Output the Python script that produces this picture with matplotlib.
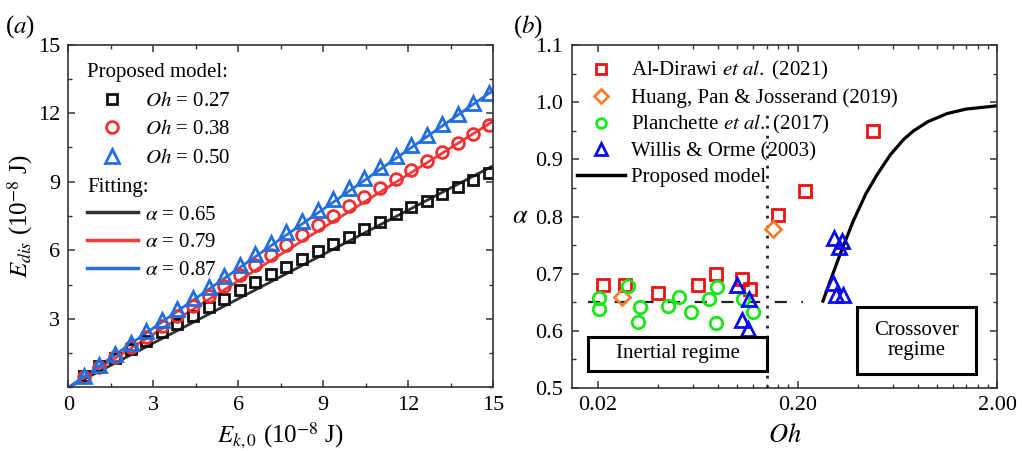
import matplotlib
matplotlib.use("Agg")
import matplotlib.pyplot as plt
from matplotlib.lines import Line2D
from matplotlib.patches import Rectangle
from matplotlib.ticker import MultipleLocator, NullFormatter

plt.rcParams['font.family'] = ['Liberation Serif', 'DejaVu Serif']
plt.rcParams['mathtext.fontset'] = 'stix'
plt.rcParams['font.size'] = 15

# (a) dissipated vs initial kinetic energy, units of 1e-8 J
ek0 = [0.55, 1.10, 1.65, 2.20, 2.75, 3.30, 3.85, 4.40, 4.95, 5.50, 6.05, 6.60, 7.15, 7.70,
       8.25, 8.80, 9.35, 9.90, 10.45, 11.00, 11.55, 12.10, 12.65, 13.20, 13.75, 14.30, 14.85]
edis_027 = [0.50, 0.92, 1.30, 1.68, 2.05, 2.42, 2.78, 3.14, 3.52, 3.89, 4.26, 4.62, 4.96, 5.29,
            5.62, 5.96, 6.28, 6.60, 6.93, 7.25, 7.58, 7.88, 8.17, 8.47, 8.78, 9.07, 9.37]
edis_038 = [0.45, 0.90, 1.34, 1.79, 2.23, 2.68, 3.12, 3.57, 4.01, 4.46, 4.90, 5.35, 5.79, 6.24,
            6.68, 7.10, 7.52, 7.93, 8.33, 8.73, 9.13, 9.52, 9.91, 10.30, 10.69, 11.08, 11.47]
edis_050 = [0.50, 0.98, 1.47, 1.96, 2.45, 2.94, 3.43, 3.92, 4.40, 4.89, 5.37, 5.86, 6.34, 6.82,
            7.29, 7.77, 8.24, 8.71, 9.18, 9.65, 10.12, 10.59, 11.06, 11.52, 11.98, 12.43, 12.88]
fit_x = [0.0, 15.0]
fit_065 = [0.0, 9.70]
fit_079 = [0.0, 11.65]
fit_087 = [0.0, 13.00]

# (b) alpha against Oh
dirawi_oh = [0.0212, 0.0275, 0.0398, 0.0634, 0.0778, 0.106, 0.116, 0.159, 0.217, 0.479]
dirawi_a = [0.681, 0.681, 0.667, 0.680, 0.699, 0.690, 0.673, 0.802, 0.845, 0.950]
huang_oh = [0.0263, 0.151]
huang_a = [0.660, 0.778]
planch_oh = [0.0202, 0.0202, 0.0283, 0.0325, 0.0318, 0.0449, 0.0510, 0.0588, 0.0720,
             0.0786, 0.0778, 0.107, 0.119]
planch_a = [0.658, 0.638, 0.678, 0.642, 0.616, 0.643, 0.660, 0.633, 0.655,
            0.677, 0.613, 0.655, 0.633]
willis_oh = [0.0999, 0.114, 0.106, 0.113, 0.304, 0.335, 0.322, 0.302, 0.310, 0.338]
willis_a = [0.680, 0.655, 0.619, 0.603, 0.762, 0.758, 0.747, 0.683, 0.662, 0.662]
model_oh = [0.268, 0.30, 0.33, 0.38, 0.44, 0.50, 0.583, 0.68, 0.763, 0.90, 1.12, 1.40, 1.92, 2.0]
model_a = [0.652, 0.699, 0.738, 0.792, 0.840, 0.873, 0.908, 0.935, 0.950, 0.966, 0.980, 0.988, 0.993, 0.994]
inertial_oh = [0.0178, 0.214]
inertial_a = 0.65
oh_boundary = 0.14

fig = plt.figure(figsize=(10.22, 4.51), dpi=100)
ax1 = fig.add_axes([0.0668, 0.1408, 0.4159, 0.7605])
ax2 = fig.add_axes([0.5594, 0.1397, 0.4164, 0.7605])

spine_col = '#333333'
for ax in (ax1, ax2):
    for s in ax.spines.values():
        s.set_linewidth(1.2)
        s.set_color(spine_col)
    ax.tick_params(which='both', direction='in', top=True, right=True, color=spine_col,
                   labelsize=16, pad=6)
    ax.tick_params(which='major', length=5, width=1.1)
    ax.tick_params(which='minor', length=3, width=1.0)

# ---- (a)
ax1.plot(fit_x, fit_065, color='#303030', lw=2.0)
ax1.plot(fit_x, fit_079, color='#f03c3c', lw=2.0)
ax1.plot(fit_x, fit_087, color='#2a6fdc', lw=2.0)
ax1.plot(ek0, edis_027, ls='none', marker='s', ms=7.5, mfc='none', mec='#111111', mew=2.0)
ax1.plot(ek0, edis_038, ls='none', marker='o', ms=8.5, mfc='none', mec='#f03030', mew=2.0)
ax1.plot(ek0, edis_050, ls='none', marker='^', ms=9.5, mfc='none', mec='#1f6fe0', mew=2.0)

ax1.set_xlim(0, 15)
ax1.set_ylim(0, 15)
ax1.set_xticks([0, 3, 6, 9, 12, 15])
ax1.set_yticks([3, 6, 9, 12, 15])
ax1.xaxis.set_minor_locator(MultipleLocator(1.5))
ax1.yaxis.set_minor_locator(MultipleLocator(1.5))
ax1.set_xlabel(r'$E_{k,0}$ (10$^{-8}$ J)', fontsize=18, labelpad=4)
ax1.set_ylabel(r'$E_{dis}$ (10$^{-8}$ J)', fontsize=18, labelpad=2)

h_mark = [Line2D([], [], ls='none', marker='s', ms=7.5, mfc='none', mec='#111111', mew=2.0),
          Line2D([], [], ls='none', marker='o', ms=8.5, mfc='none', mec='#f03030', mew=2.0),
          Line2D([], [], ls='none', marker='^', ms=9.5, mfc='none', mec='#1f6fe0', mew=2.0)]
leg1 = ax1.legend(h_mark, [r'$Oh$ = 0.27', r'$Oh$ = 0.38', r'$Oh$ = 0.50'],
                  title='Proposed model:', alignment='left', loc='upper left',
                  bbox_to_anchor=(0.044, 0.945), frameon=False, fontsize=15, title_fontsize=15,
                  handlelength=2.45, handletextpad=0.33, labelspacing=0.43,
                  borderpad=0, borderaxespad=0)
ax1.add_artist(leg1)
h_line = [Line2D([], [], color='#303030', lw=2.5),
          Line2D([], [], color='#f03c3c', lw=2.5),
          Line2D([], [], color='#2a6fdc', lw=2.5)]
ax1.legend(h_line, [r'$\alpha$ = 0.65', r'$\alpha$ = 0.79', r'$\alpha$ = 0.87'],
           title='Fitting:', alignment='left', loc='upper left',
           bbox_to_anchor=(0.044, 0.611), frameon=False, fontsize=15, title_fontsize=15,
           handlelength=2.45, handletextpad=0.33, labelspacing=0.39,
           borderpad=0, borderaxespad=0)

# ---- (b)
ax2.set_xscale('log')
ax2.plot(inertial_oh, [inertial_a, inertial_a], color='#222222', lw=1.6, ls=(0, (5.5, 6.5)))
ax2.plot([oh_boundary, oh_boundary], [0.5, 0.99], color='#222222', lw=2.0, ls=(0, (1, 2.6)))
ax2.plot(model_oh, model_a, color='black', lw=2.3)
ax2.plot(dirawi_oh, dirawi_a, ls='none', marker='s', ms=8, mfc='none', mec='#ee1111', mew=2.0)
ax2.plot(huang_oh, huang_a, ls='none', marker='D', ms=8, mfc='none', mec='#f07f30', mew=2.0)
ax2.plot(planch_oh, planch_a, ls='none', marker='o', ms=9, mfc='none', mec='#19e619', mew=2.0)
ax2.plot(willis_oh, willis_a, ls='none', marker='^', ms=10, mfc='none', mec='#0a0af0', mew=2.0)

ax2.add_patch(Rectangle((0.0179, 0.530), 0.1402 - 0.0179, 0.060, fill=False,
                        ec='black', lw=2.2, zorder=5))
ax2.text(0.0501, 0.560, 'Inertial regime', ha='center', va='center', fontsize=15)
ax2.add_patch(Rectangle((0.397, 0.525), 1.57 - 0.397, 0.117, fill=False,
                        ec='black', lw=2.2, zorder=5))
ax2.text(0.789, 0.5835, 'Crossover\nregime', ha='center', va='center', fontsize=15,
         linespacing=1.1)

ax2.set_xlim(0.0148, 2.0)
ax2.set_ylim(0.5, 1.1)
ax2.set_xticks([0.02, 0.2, 2.0], labels=['0.02', '0.20', '2.00'])
minor = [0.02 * k for k in range(2, 10)] + [0.2 * k for k in range(2, 10)]
ax2.set_xticks(minor, minor=True)
ax2.xaxis.set_minor_formatter(NullFormatter())
ax2.set_yticks([0.5, 0.6, 0.7, 0.8, 0.9, 1.0, 1.1])
ax2.set_yticklabels(['0.5', '0.6', '0.7', '0.8', '0.9', '1.0', '1.1'])
ax2.yaxis.set_minor_locator(MultipleLocator(0.05))
ax2.set_xlabel(r'$Oh$', fontsize=19, labelpad=6)
ax2.set_ylabel(r'$\alpha$', fontsize=19, rotation=0, labelpad=11, va='center')

h2 = [Line2D([], [], ls='none', marker='s', ms=6.5, mfc='none', mec='#ee1111', mew=2.0),
      Line2D([], [], ls='none', marker='D', ms=7, mfc='none', mec='#f07f30', mew=2.0),
      Line2D([], [], ls='none', marker='o', ms=7, mfc='none', mec='#19e619', mew=2.0),
      Line2D([], [], ls='none', marker='^', ms=8.5, mfc='none', mec='#0a0af0', mew=2.0),
      Line2D([], [], color='black', lw=2.5)]
ax2.legend(h2, [r'Al-Dirawi $et\ al.$ (2021)', r'Huang, Pan & Josserand (2019)',
                r'Planchette $et\ al.$ (2017)', r'Willis & Orme (2003)', 'Proposed model'],
           loc='upper left', bbox_to_anchor=(0.013, 0.958), frameon=False, fontsize=15,
           handlelength=2.3, handletextpad=0.3, labelspacing=0.27,
           borderpad=0, borderaxespad=0)

fig.text(0.005, 0.97, r'($a$)', fontsize=18, va='top')
fig.text(0.502, 0.97, r'($b$)', fontsize=18, va='top')

fig.savefig('out.png', dpi=100)
